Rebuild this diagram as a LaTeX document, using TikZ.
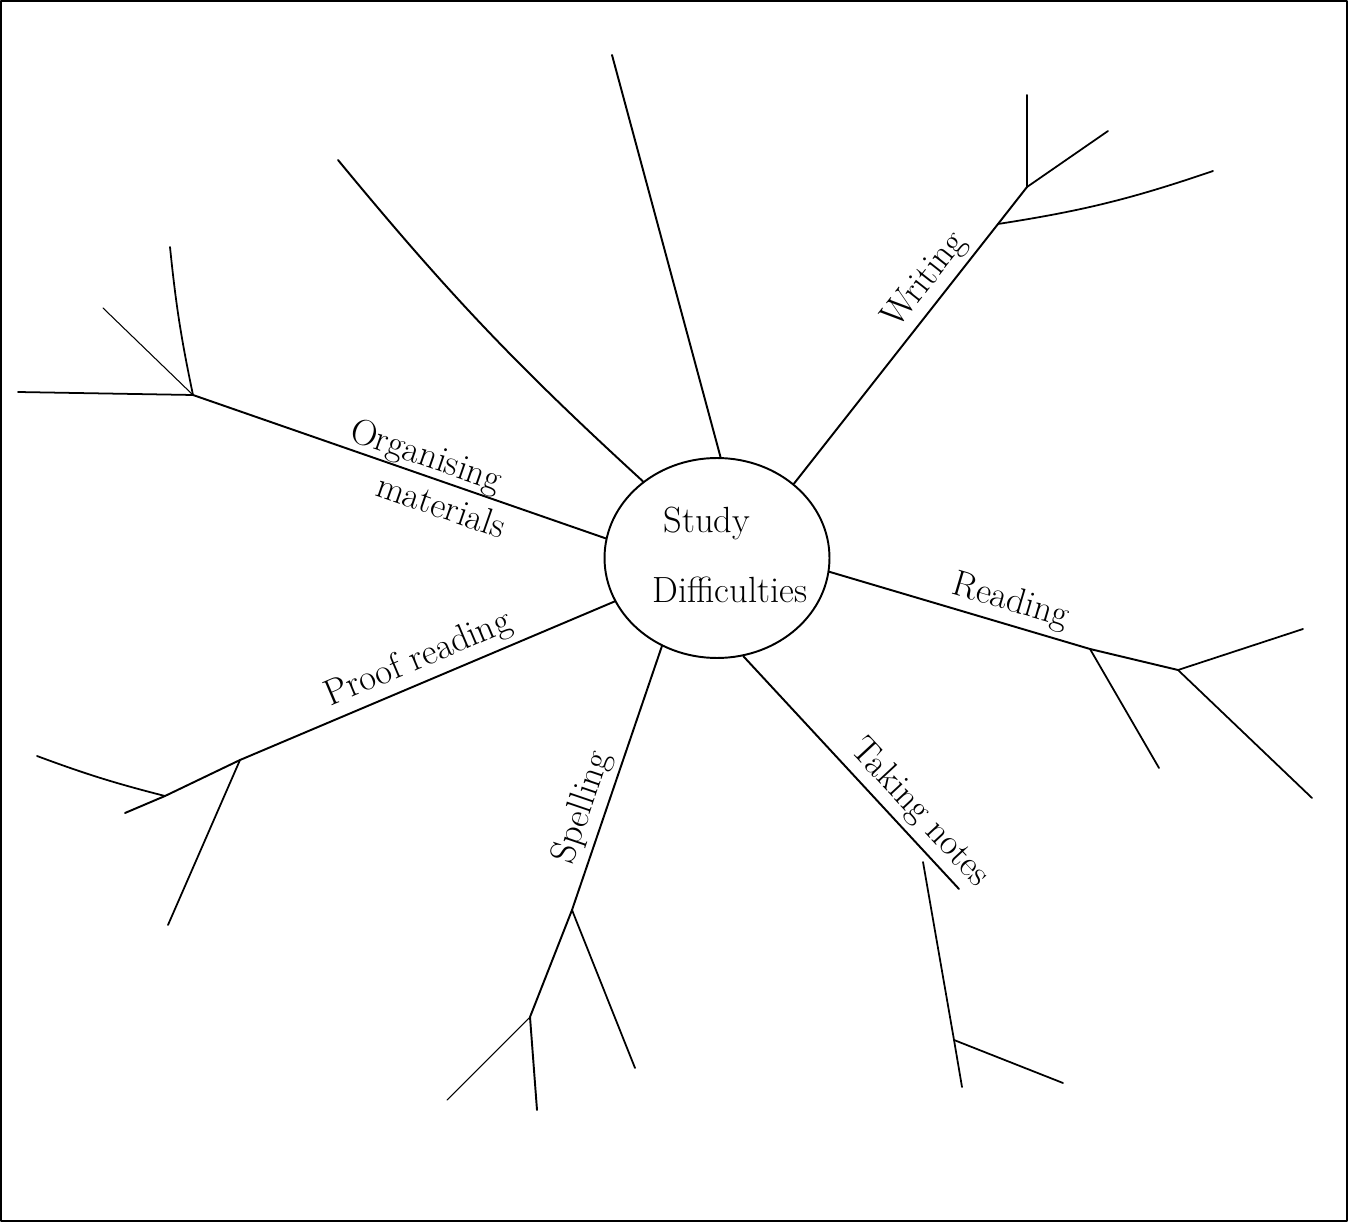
\documentclass[tikz,border=0pt]{standalone}
\usepackage{tikz}
\usetikzlibrary{shapes.geometric}

\begin{document}
\begin{tikzpicture}[x=0.02cm,y=-0.02cm,line cap=round,line join=round]
    % --- 1. Define Styles ---
    \tikzset{
        limb/.style={line width=1.1pt},
        twig/.style={line width=1pt},
        thintwig/.style={line width=0.6pt},
        lbl/.style={font=\huge,sloped,above,inner sep=3pt},
    }

    % --- 2. Page and Frame ---
    \useasboundingbox (0,0) rectangle (1348,1222);
    \draw[line width=0.6pt] (1,1) rectangle (1347,1221);

    % --- 3. Centre Bubble ---
    \node[ellipse,draw,line width=1.1pt,minimum width=4.5cm,minimum height=4cm,inner sep=0pt] (hub) at (717,558) {};
    \node[font=\huge] (study) at (707,523) {Study};
    \node[font=\huge] (diff) at (730,590) {Difficulties};

    % --- 4. Define Coordinates ---
    \coordinate (top) at (612,55);
    \coordinate (ul) at (338,160);
    % organising
    \coordinate (oj) at (193,395);
    \coordinate (ob1) at (18,392);
    \coordinate (ob2) at (103,308);
    \coordinate (ob3) at (170,247);
    % proof reading
    \coordinate (pj1) at (240,760);
    \coordinate (pj2) at (165,796);
    \coordinate (pend) at (125,813);
    \coordinate (pb1) at (37,756);
    \coordinate (pb2) at (168,925);
    % spelling
    \coordinate (sj1) at (572,910);
    \coordinate (sj2) at (530,1017);
    \coordinate (send) at (537,1110);
    \coordinate (sb1) at (635,1068);
    \coordinate (sb2) at (447,1100);
    % taking notes
    \coordinate (tend) at (959,889);
    \coordinate (tj0) at (923,862);
    \coordinate (tj1) at (954,1040);
    \coordinate (tb1) at (962,1087);
    \coordinate (tb2) at (1063,1083);
    % reading
    \coordinate (rj1) at (1090,649);
    \coordinate (rj2) at (1178,670);
    \coordinate (rb1) at (1159,768);
    \coordinate (rb2) at (1303,629);
    \coordinate (rb3) at (1312,798);
    % writing
    \coordinate (wj1) at (998,224);
    \coordinate (wj2) at (1027,187);
    \coordinate (wb1) at (1027,95);
    \coordinate (wb2) at (1108,131);
    \coordinate (wb3) at (1213,171);

    % --- 5. Bare Branches ---
    \draw[limb] (hub.88) -- (top);
    \draw[limb] (hub.134) to[bend left=4] (ul);

    % --- 6. Organising materials ---
    \draw[limb] (hub.170) -- node[lbl,pos=0.45,above=-3pt] (orgA) {Organising}
        node[font=\huge,sloped,below,pos=0.38,inner sep=5pt] (orgB) {materials} (oj);
    \draw[twig] (oj) -- (ob1);
    \draw[thintwig] (oj) -- (ob2);
    \draw[twig] (oj) to[bend left=3] (ob3);

    % --- 7. Proof reading ---
    \draw[limb] (hub.203) -- node[lbl,pos=0.5] (proof) {Proof reading} (pj1) -- (pj2) -- (pend);
    \draw[twig] (pj2) to[bend left=3] (pb1);
    \draw[twig] (pj1) -- (pb2);

    % --- 8. Spelling ---
    \draw[limb] (hub.238) -- node[lbl,pos=0.64] (spell) {Spelling} (sj1) -- (sj2) -- (send);
    \draw[twig] (sj1) -- (sb1);
    \draw[thintwig] (sj2) -- (sb2);

    % --- 9. Taking notes ---
    \draw[limb] (hub.285) -- node[lbl,pos=0.74] (notes) {Taking notes} (tend);
    \draw[twig] (tj0) -- (tj1) -- (tb1);
    \draw[twig] (tj1) -- (tb2);

    % --- 10. Reading ---
    \draw[limb] (hub.353) -- node[lbl,pos=0.67] (read) {Reading} (rj1) -- (rj2);
    \draw[twig] (rj1) -- (rb1);
    \draw[twig] (rj2) -- (rb2);
    \draw[twig] (rj2) -- (rb3);

    % --- 11. Writing ---
    \draw[limb] (hub.44) -- node[lbl,pos=0.73] (write) {Writing} (wj1) -- (wj2);
    \draw[limb] (wj2) -- (wb1);
    \draw[twig] (wj2) -- (wb2);
    \draw[twig] (wj1) to[bend right=5] (wb3);
\end{tikzpicture}
\end{document}
